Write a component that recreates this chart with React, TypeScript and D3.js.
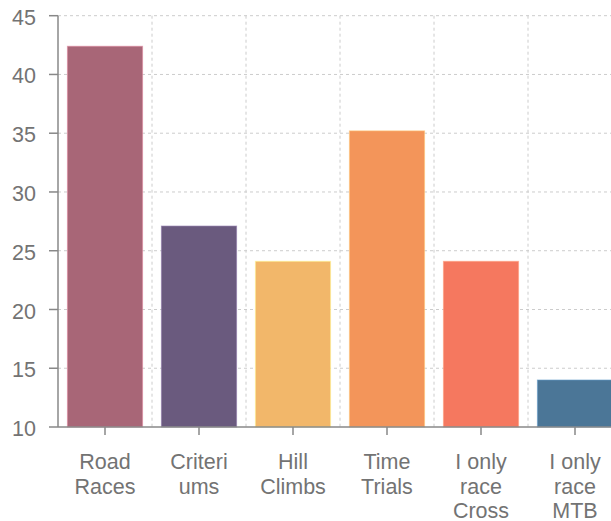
import React from "react";
import * as d3 from "d3";

const categories: string[][] = [
  ["Road", "Races"],
  ["Criteri", "ums"],
  ["Hill", "Climbs"],
  ["Time", "Trials"],
  ["I only", "race", "Cross"],
  ["I only", "race", "MTB"],
];
const values: number[] = [42.4, 27.1, 24.1, 35.2, 24.1, 14];
const colors: string[] = ["#a86677", "#6a5a7e", "#f2b76a", "#f3955a", "#f5785f", "#4b7697"];
const yTicks: number[] = [10, 15, 20, 25, 30, 35, 40, 45];

const W = 611;
const H = 521;
const left = 58;
const top = 15.7;
const bottom = 427;
const right = left + 6 * 94;

export default function App() {
  const keys = categories.map((_, i) => String(i));
  const x = d3.scaleBand<string>().domain(keys).range([left, right]).paddingInner(0.2).paddingOuter(0.1);
  const y = d3.scaleLinear().domain([10, 45]).range([bottom, top]);
  const step = x.step();
  const textColor = "#737373";
  const font = "Liberation Sans, Arial, Helvetica, sans-serif";

  return (
    <svg
      width={W}
      height={H}
      style={{ position: "absolute", left: 0, top: 0, background: "#fff" }}
      fontFamily={font}
    >
      {yTicks.filter((t) => t !== 10).map((t) => (
        <line key={"h" + t} x1={left} x2={W} y1={y(t)} y2={y(t)} stroke="#cccccc" strokeDasharray="3,3" strokeWidth={1} />
      ))}
      {d3.range(1, 7).map((k) => (
        <line key={"v" + k} x1={left + k * step} x2={left + k * step} y1={top} y2={bottom} stroke="#cccccc" strokeDasharray="3,3" strokeWidth={1} />
      ))}
      {values.map((v, i) => (
        <rect
          key={"b" + i}
          x={x(keys[i])!}
          y={y(v)}
          width={x.bandwidth()}
          height={y(10) - y(v)}
          fill={colors[i]}
          stroke={d3.color(colors[i])!.brighter(0.8).formatHex()}
          strokeOpacity={0.6}
          strokeWidth={1}
        />
      ))}
      <line x1={left} x2={left} y1={top} y2={bottom} stroke="#888" strokeWidth={1.5} />
      {yTicks.map((t) => (
        <g key={"yt" + t}>
          <line x1={left - 9} x2={left} y1={y(t)} y2={y(t)} stroke="#888" strokeWidth={1.5} />
          <text x={36} y={y(t)} dy="0.42em" textAnchor="end" fontSize={21.5} fill={textColor}>
            {t}
          </text>
        </g>
      ))}
      <line x1={left} x2={W} y1={bottom} y2={bottom} stroke="#888" strokeWidth={1.5} />
      {categories.map((lines, i) => {
        const cx = x(keys[i])! + x.bandwidth() / 2;
        return (
          <g key={"xt" + i}>
            <line x1={cx} x2={cx} y1={bottom} y2={bottom + 8} stroke="#888" strokeWidth={1.5} />
            <text x={cx} y={469} textAnchor="middle" fontSize={21.5} fill={textColor}>
              {lines.map((l, j) => (
                <tspan key={j} x={cx} y={469 + j * 24.5}>
                  {l}
                </tspan>
              ))}
            </text>
          </g>
        );
      })}
    </svg>
  );
}
